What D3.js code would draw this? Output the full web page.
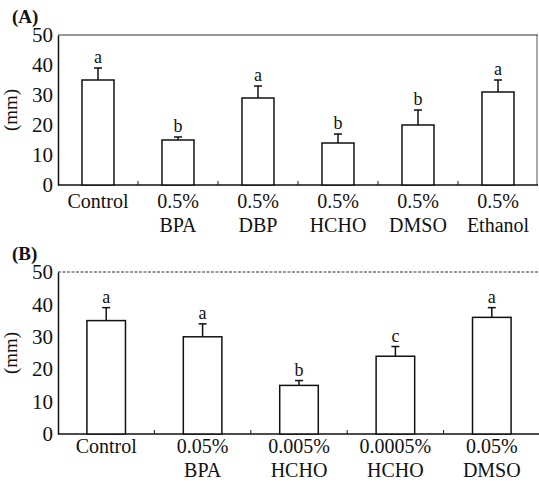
<!DOCTYPE html>
<html>
<head>
<meta charset="utf-8">
<script src="https://cdn.jsdelivr.net/npm/d3@7"></script>
<style>
  body { margin: 0; background: #fff; }
  svg { display: block; }
  text { font-family: "Liberation Serif", "Times New Roman", serif; fill: #111; }
</style>
</head>
<body>
<svg id="chart" width="539" height="481"></svg>
<script>
// panel A
var catsA = [["Control"], ["0.5%", "BPA"], ["0.5%", "DBP"], ["0.5%", "HCHO"], ["0.5%", "DMSO"], ["0.5%", "Ethanol"]];
var meanA = [35, 15, 29, 14, 20, 31];
var errA = [4, 1, 4, 3, 5, 4];
var sigA = ["a", "b", "a", "b", "b", "a"];

// panel B
var catsB = [["Control"], ["0.05%", "BPA"], ["0.005%", "HCHO"], ["0.0005%", "HCHO"], ["0.05%", "DMSO"]];
var meanB = [35, 30, 15, 24, 36];
var errB = [4, 4, 1.5, 3, 3];
var sigB = ["a", "a", "b", "c", "a"];

var yTicks = [0, 10, 20, 30, 40, 50];

var svg = d3.select("#chart");

function drawPanel(opt) {
    var g = svg.append("g");
    var keys = opt.cats.map(function(c, i) { return i; });

    var x = d3.scaleBand()
        .domain(keys)
        .range([opt.left, opt.right])
        .paddingInner(0.6)
        .paddingOuter(0.3);
    var band = d3.scaleBand().domain(keys).range([opt.left, opt.right]);
    var y = d3.scaleLinear().domain([0, 50]).range([opt.bottom, opt.top]);

    // frame lines
    g.append("line")
        .attr("x1", opt.left).attr("x2", opt.right)
        .attr("y1", opt.top).attr("y2", opt.top)
        .attr("stroke", "#333").attr("stroke-width", 1)
        .attr("stroke-dasharray", opt.dashTop ? "3,1.5" : null);
    if (opt.rightBorder) {
        g.append("line")
            .attr("x1", opt.right - 1).attr("x2", opt.right - 1)
            .attr("y1", opt.top).attr("y2", opt.bottom)
            .attr("stroke", "#555").attr("stroke-width", 1);
    }

    // y axis
    var yAxis = g.append("g")
        .attr("transform", "translate(" + opt.left + ",0)")
        .call(d3.axisLeft(y).tickValues(yTicks).tickSize(0).tickPadding(5));
    yAxis.select(".domain").attr("stroke", "#111").attr("stroke-width", 1.5);
    yAxis.selectAll("text")
        .style("font-family", "'Liberation Serif', serif")
        .style("font-size", "21px").attr("fill", "#111");

    // x axis baseline with small ticks between groups
    g.append("line")
        .attr("x1", opt.left).attr("x2", opt.right)
        .attr("y1", opt.bottom).attr("y2", opt.bottom)
        .attr("stroke", "#111").attr("stroke-width", 1.5);
    g.selectAll(".sep")
        .data(keys.slice(1))
        .enter().append("line")
        .attr("x1", function(d) { return band(d); })
        .attr("x2", function(d) { return band(d); })
        .attr("y1", opt.bottom).attr("y2", opt.bottom - 4)
        .attr("stroke", "#111").attr("stroke-width", 1);

    // bars
    g.selectAll(".bar")
        .data(opt.mean)
        .enter().append("rect")
        .attr("x", function(d, i) { return x(i); })
        .attr("y", function(d) { return y(d); })
        .attr("width", x.bandwidth())
        .attr("height", function(d) { return y(0) - y(d); })
        .attr("fill", "#fff")
        .attr("stroke", "#111").attr("stroke-width", 1.5);

    // error bars (upper only)
    opt.mean.forEach(function(m, i) {
        var cx = x(i) + x.bandwidth() / 2;
        var top = y(m + opt.err[i]);
        g.append("line")
            .attr("x1", cx).attr("x2", cx)
            .attr("y1", y(m)).attr("y2", top)
            .attr("stroke", "#111").attr("stroke-width", 1.5);
        g.append("line")
            .attr("x1", cx - 4).attr("x2", cx + 4)
            .attr("y1", top).attr("y2", top)
            .attr("stroke", "#111").attr("stroke-width", 1.5);
        g.append("text")
            .attr("x", cx).attr("y", top - 5)
            .attr("text-anchor", "middle")
            .style("font-size", "18px")
            .text(opt.sig[i]);
    });

    // category labels
    opt.cats.forEach(function(lines, i) {
        var cx = x(i) + x.bandwidth() / 2;
        lines.forEach(function(t, j) {
            g.append("text")
                .attr("x", cx).attr("y", opt.bottom + opt.labelGap + j * 24)
                .attr("text-anchor", "middle")
                .style("font-size", "20px")
                .text(t);
        });
    });

    // y label
    g.append("text")
        .attr("transform", "translate(17," + (opt.top + opt.bottom) / 2 + ") rotate(-90)")
        .attr("text-anchor", "middle")
        .style("font-size", "19px")
        .text("(mm)");

    // panel letter
    g.append("text")
        .attr("x", 12).attr("y", opt.top - 12)
        .style("font-size", "19px").style("font-weight", "bold")
        .text(opt.label);
}

drawPanel({ cats: catsA, mean: meanA, err: errA, sig: sigA, label: "(A)", labelGap: 23,
    left: 58, right: 538, top: 35, bottom: 185, rightBorder: true, dashTop: false });
drawPanel({ cats: catsB, mean: meanB, err: errB, sig: sigB, label: "(B)", labelGap: 19,
    left: 58, right: 540, top: 272, bottom: 434, rightBorder: false, dashTop: true });
</script>
</body>
</html>
